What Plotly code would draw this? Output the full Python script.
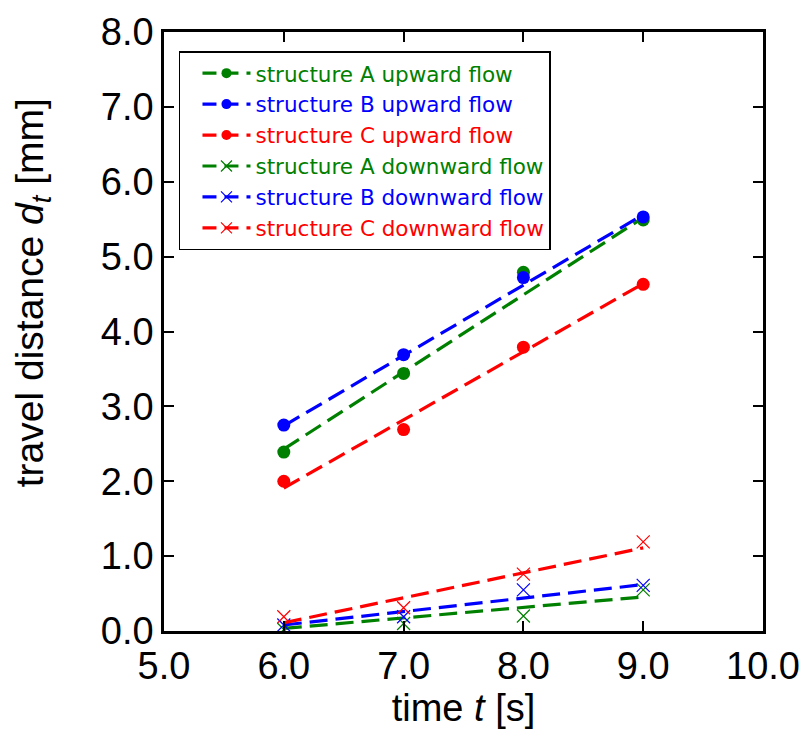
import plotly.graph_objects as go

# time [s]
t_points = [6.0, 7.0, 8.0, 9.0]
t_fit = [6.0, 9.0]

# measured travel distance [mm]
a_up = [2.39, 3.44, 4.79, 5.49]
b_up = [2.75, 3.69, 4.72, 5.53]
c_up = [2.00, 2.69, 3.79, 4.63]
a_down = [0.02, 0.10, 0.20, 0.55]
b_down = [0.08, 0.19, 0.55, 0.61]
c_down = [0.19, 0.31, 0.76, 1.19]

# fitted (dashed) lines, endpoint values
a_up_fit = [2.43, 5.52]
b_up_fit = [2.74, 5.56]
c_up_fit = [1.91, 4.64]
a_down_fit = [0.035, 0.455]
b_down_fit = [0.08, 0.62]
c_down_fit = [0.11, 1.11]

names = [
    "structure A upward flow",
    "structure B upward flow",
    "structure C upward flow",
    "structure A downward flow",
    "structure B downward flow",
    "structure C downward flow",
]
colors = ["#008000", "#0000ff", "#ff0000", "#008000", "#0000ff", "#ff0000"]
points = [a_up, b_up, c_up, a_down, b_down, c_down]
fits = [a_up_fit, b_up_fit, c_up_fit, a_down_fit, b_down_fit, c_down_fit]
symbols = ["circle", "circle", "circle", "x-thin", "x-thin", "x-thin"]

x_ticks = [5.0, 6.0, 7.0, 8.0, 9.0, 10.0]
y_ticks = [0.0, 1.0, 2.0, 3.0, 4.0, 5.0, 6.0, 7.0, 8.0]

FONT = "Liberation Sans, Arial, Helvetica, sans-serif"
LEG_FONT = "DejaVu Sans, Liberation Sans, Arial, sans-serif"
DASH = "18px,8px"

fig = go.Figure()

for name, col, pts, fit, sym in zip(names, colors, points, fits, symbols):
    if sym == "circle":
        mk = dict(symbol="circle", size=13, color=col, line=dict(width=0))
        mk_leg = dict(symbol="circle", size=10, color=col, line=dict(width=0))
    else:
        mk = dict(symbol="x-thin", size=13, color=col, line=dict(width=1.2, color=col))
        mk_leg = dict(symbol="x-thin", size=11, color=col, line=dict(width=1.2, color=col))
    # fitted dashed line
    fig.add_trace(go.Scatter(
        x=t_fit, y=fit, mode="lines",
        line=dict(color=col, width=3.2, dash=DASH),
        showlegend=False, hoverinfo="skip",
    ))
    # measured points
    fig.add_trace(go.Scatter(
        x=t_points, y=pts, mode="markers", marker=mk,
        showlegend=False, name=name,
    ))
    # legend entry
    fig.add_trace(go.Scatter(
        x=[None], y=[None], mode="lines+markers",
        line=dict(color=col, width=3.2, dash="14px,8px"),
        marker=mk_leg,
        name=f'<span style="color:{col}">{name}</span>',
        showlegend=True,
    ))

axis_common = dict(
    showline=True, linecolor="black", linewidth=2.5, mirror="ticks",
    ticks="inside", ticklen=10, tickwidth=2, tickcolor="black",
    showgrid=False, zeroline=False,
    tickfont=dict(family=FONT, size=38, color="black"),
    tickformat=".1f",
)

fig.update_xaxes(
    range=[5, 10], tickvals=x_ticks,
    title=dict(text="time <i>t</i> [s]", font=dict(family=FONT, size=38, color="black"), standoff=6),
    **axis_common,
)
fig.update_yaxes(
    range=[0, 8], tickvals=y_ticks,
    **axis_common,
)

fig.add_annotation(
    text="travel distance <i>d<sub>t</sub></i> [mm]",
    xref="paper", yref="paper", x=-0.2183, y=0.5643,
    xanchor="center", yanchor="middle", textangle=-90, showarrow=False,
    font=dict(family=FONT, size=39, color="black"),
)

fig.update_layout(
    width=806, height=743,
    margin=dict(l=164, r=43, t=32, b=112, autoexpand=False),
    paper_bgcolor="white", plot_bgcolor="white",
    font=dict(family=FONT, color="black"),
    showlegend=True,
    legend=dict(
        x=0.025, y=0.968, xanchor="left", yanchor="top",
        bgcolor="white", bordercolor="black", borderwidth=1.5,
        font=dict(family=LEG_FONT, size=21.5, color="black"),
        itemwidth=48, indentation=17, tracegroupgap=0,
    ),
)

fig.write_html("out.html")
